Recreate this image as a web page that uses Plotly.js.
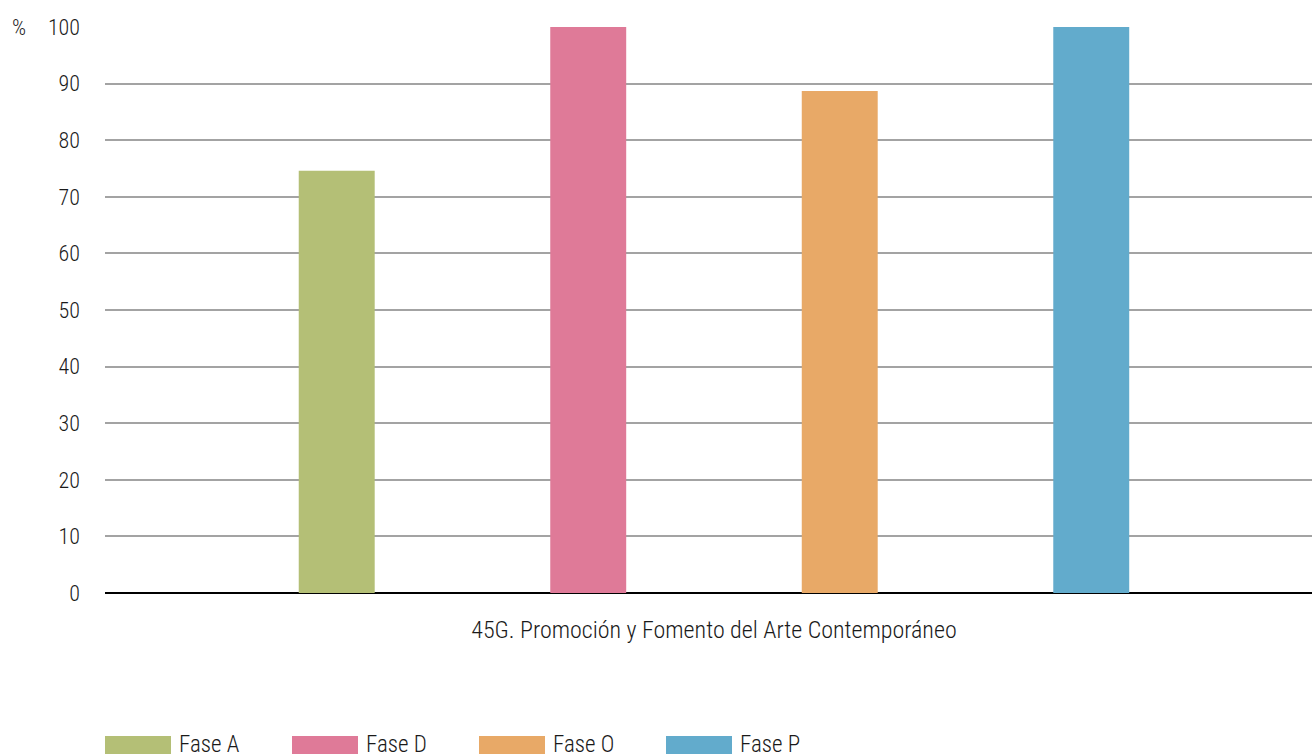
<!DOCTYPE html>
<html><head><meta charset="utf-8">
<script src="https://cdn.plot.ly/plotly-3.0.1.min.js"></script>
<style>html,body{margin:0;padding:0;background:#fff}#chart{width:1312px;height:754px}</style>
</head><body><div id="chart"></div>
<script>
const categories = ["45G. Promoción y Fomento del Arte Contemporáneo"];
const seriesNames = ["Fase A", "Fase D", "Fase O", "Fase P"];
const seriesValues = [[74.6], [100], [88.7], [100]];
const seriesColors = ["#b4bf76", "#df7a98", "#e8a967", "#62abcc"];
const yTickVals = [0,10,20,30,40,50,60,70,80,90,100];

const FONT = '"Roboto Condensed", "Liberation Sans Narrow", Roboto, sans-serif';
const W = 1312, H = 754, L = 105, R = 0, T = 27, B = 161;
const pw = W - L - R, ph = H - T - B;

const traces = seriesNames.map((n, i) => ({
  type: 'bar', name: n, x: categories, y: seriesValues[i],
  marker: {color: seriesColors[i], line: {width: 0}}, showlegend: false,
  hoverinfo: 'y+name'
}));

// custom legend (wide swatches) built from series names/colours
const shapes = [], annotations = [];
const legX0 = 105, legStep = 187, swW = 66, swTop = 736, swBot = 756, txtY = 744;
seriesNames.forEach((n, i) => {
  const x0 = legX0 + i * legStep;
  shapes.push({type: 'rect', xref: 'paper', yref: 'paper',
    x0: (x0 - L) / pw, x1: (x0 + swW - L) / pw,
    y0: (H - B - swTop) / ph, y1: (H - B - swBot) / ph,
    fillcolor: seriesColors[i], line: {width: 0}});
  annotations.push({xref: 'paper', yref: 'paper', x: (x0 + swW + 6 - L) / pw,
    y: (H - B - txtY) / ph, xanchor: 'left', yanchor: 'middle', showarrow: false,
    text: n, font: {family: FONT, size: 23, weight: 300, color: '#1a1a1a'}});
});
annotations.push({xref: 'paper', yref: 'paper', x: (19 - L) / pw, y: 1,
  xanchor: 'center', yanchor: 'middle', showarrow: false, text: '%',
  font: {family: FONT, size: 22, weight: 300, color: '#1a1a1a'}});

const layout = {
  width: W, height: H, margin: {l: L, r: R, t: T, b: B},
  paper_bgcolor: '#fff', plot_bgcolor: '#fff',
  barmode: 'group', bargap: 0.174, bargroupgap: 0.698,
  xaxis: {type: 'category', range: [-0.5, 0.491], showgrid: false, showline: false, ticks: '',
    tickfont: {family: FONT, size: 24, weight: 300, color: '#1a1a1a'}, ticklabelstandoff: 20},
  yaxis: {range: [0, 100], tickvals: yTickVals, showgrid: true,
    gridcolor: '#a3a3a3', gridwidth: 2, zeroline: true, zerolinecolor: '#000',
    zerolinewidth: 2, showline: false, ticks: '', ticklabelstandoff: 24,
    tickfont: {family: FONT, size: 22, weight: 300, color: '#1a1a1a'}},
  shapes: shapes, annotations: annotations, showlegend: false,
  font: {family: FONT, weight: 300}
};
Plotly.newPlot('chart', traces, layout, {displayModeBar: false});
</script></body></html>
